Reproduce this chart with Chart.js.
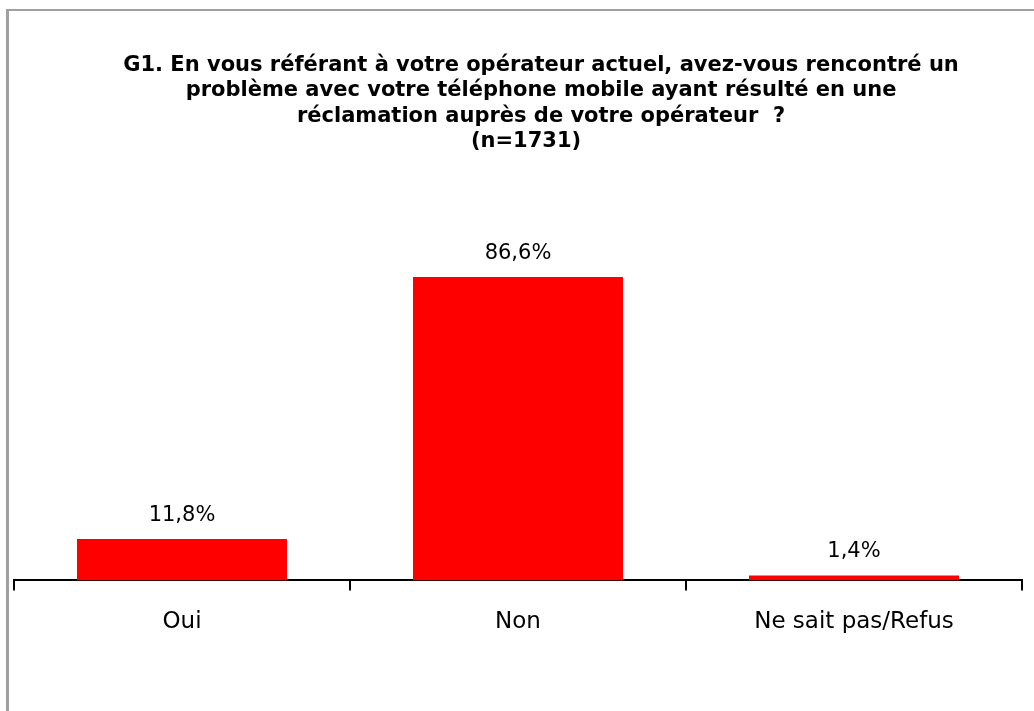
<!DOCTYPE html>
<html lang="fr">
<head>
<meta charset="utf-8">
<title>G1 - Réclamation auprès de l'opérateur</title>
<script src="https://cdn.jsdelivr.net/npm/chart.js@4.4.1/dist/chart.umd.min.js"></script>
<style>
    html, body { margin: 0; padding: 0; background: #fff; overflow: hidden; }
    #frame {
        position: absolute; left: 6px; top: 9px; width: 1200px; height: 900px;
        border-left: 3px solid #a0a0a0; border-top: 2px solid #a0a0a0;
    }
    #wrap { position: absolute; left: 0; top: 0; width: 1034px; height: 711px; }
</style>
</head>
<body>
<div id="frame"></div>
<div id="wrap"><canvas id="chart"></canvas></div>
<script>
// --- données ---
const CATEGORIES = ["Oui", "Non", "Ne sait pas/Refus"];
const VALUES = [11.8, 86.6, 1.4];
const TITLE_LINES = [
    "G1. En vous référant à votre opérateur actuel, avez-vous rencontré un",
    "problème avec votre téléphone mobile ayant résulté en une",
    "réclamation auprès de votre opérateur  ?",
    "(n=1731)"
];

Chart.defaults.font.family = "'DejaVu Sans', sans-serif";
Chart.defaults.color = "#000";

// Titre dessiné à la main (centré légèrement à droite comme dans l'original)
const titlePlugin = {
    id: "titleLines",
    afterDraw(chart) {
        const ctx = chart.ctx;
        ctx.save();
        ctx.font = "bold 21px 'DejaVu Sans', sans-serif";
        ctx.fillStyle = "#000";
        ctx.textAlign = "center";
        ctx.textBaseline = "alphabetic";
        TITLE_LINES.forEach((line, i) => {
            const cx = i === TITLE_LINES.length - 1 ? 526 : 541;
            ctx.fillText(line, cx, 71 + i * 25.3);
        });
        ctx.restore();
    }
};

// Étiquettes de valeur au-dessus des barres, format français "86,6%"
const valueLabels = {
    id: "valueLabels",
    afterDatasetsDraw(chart) {
        const ctx = chart.ctx;
        const meta = chart.getDatasetMeta(0);
        ctx.save();
        ctx.font = "21px 'DejaVu Sans', sans-serif";
        ctx.fillStyle = "#000";
        ctx.textAlign = "center";
        ctx.textBaseline = "alphabetic";
        meta.data.forEach((bar, i) => {
            const txt = VALUES[i].toFixed(1).replace(".", ",") + "%";
            ctx.fillText(txt, bar.x, bar.y - 18);
        });
        ctx.restore();
    }
};

new Chart(document.getElementById("chart"), {
    type: "bar",
    data: {
        labels: CATEGORIES,
        datasets: [{
            data: VALUES,
            backgroundColor: "#ff0000",
            borderWidth: 0,
            categoryPercentage: 1,
            barPercentage: 0.625
        }]
    },
    options: {
        responsive: true,
        maintainAspectRatio: false,
        animation: false,
        layout: { padding: { left: 14, right: 12, top: 230, bottom: 57 } },
        plugins: {
            legend: { display: false },
            tooltip: { enabled: false },
            title: { display: false }
        },
        scales: {
            y: { display: false, min: 0, max: 100 },
            x: {
                border: { display: true, color: "#000", width: 2 },
                grid: {
                    offset: true,
                    drawOnChartArea: false,
                    drawTicks: true,
                    tickLength: 10,
                    color: "#000",
                    lineWidth: 2
                },
                ticks: {
                    padding: 18,
                    color: "#000",
                    font: { size: 23 }
                }
            }
        }
    },
    plugins: [titlePlugin, valueLabels]
});
</script>
</body>
</html>
